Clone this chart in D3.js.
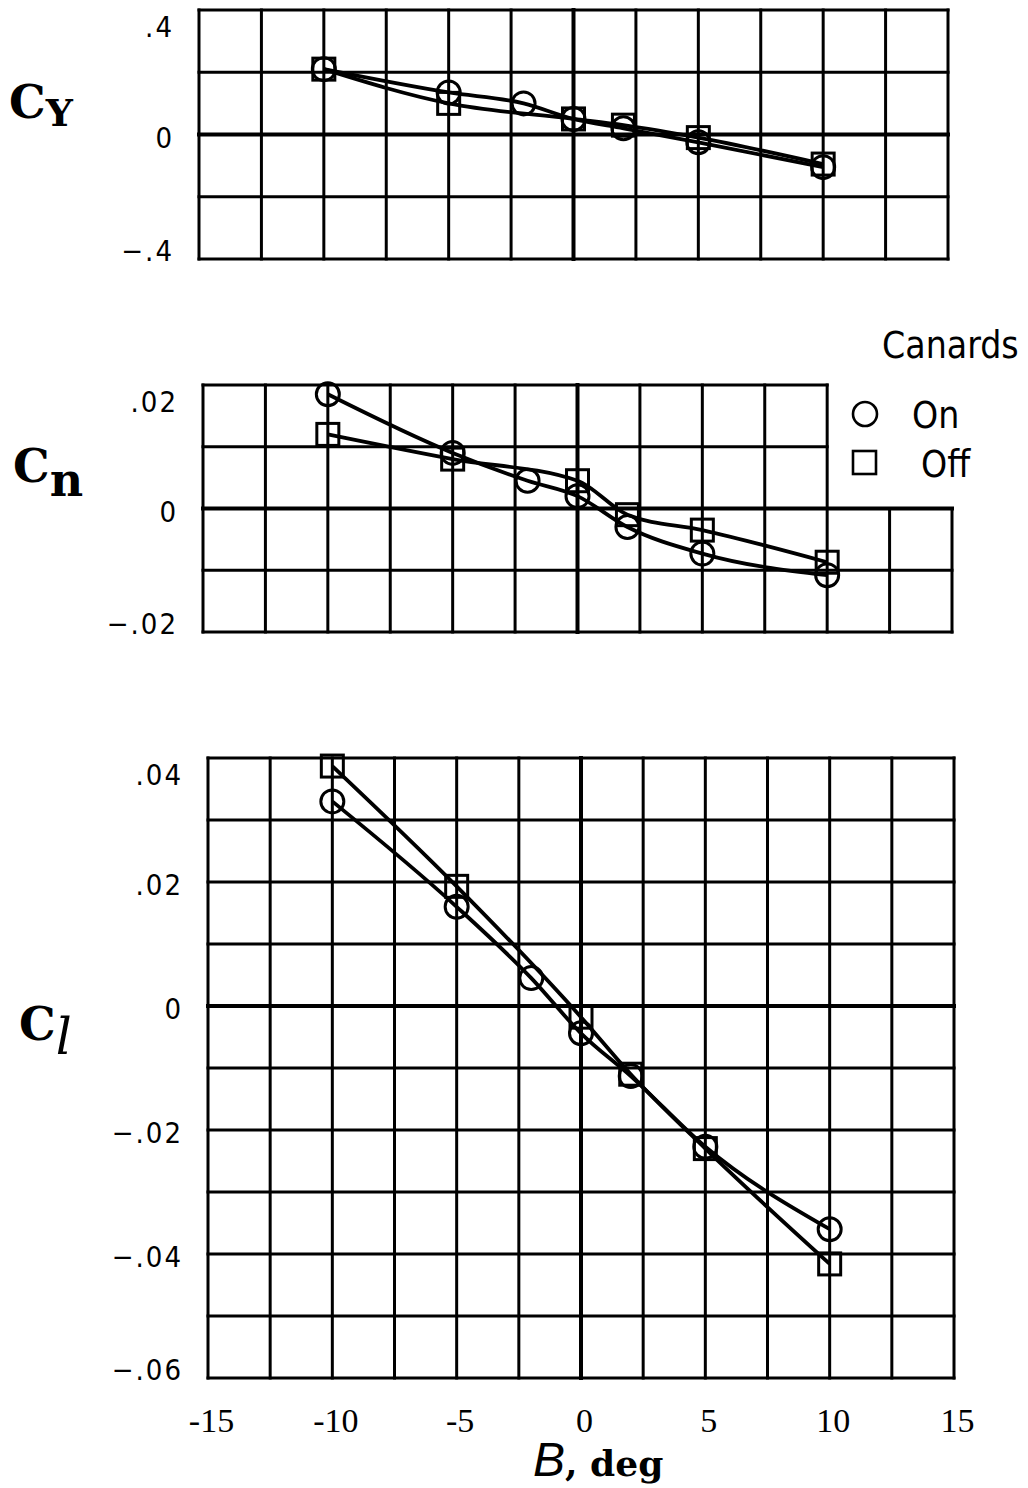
<!DOCTYPE html>
<html><head><meta charset="utf-8">
<script src="https://cdn.jsdelivr.net/npm/d3@7"></script>
<style>
html,body{margin:0;padding:0;background:#fff;}
svg{display:block;}
</style></head>
<body>
<svg id="chart" width="1028" height="1488"></svg>
<script>
// Sideslip angle, deg, for each configuration
const betaOn  = [-10, -5, -2, 0, 2, 5, 10];
const betaOff = [-10, -5, 0, 2, 5, 10];

// Side-force coefficient C_Y
const cyOn  = [0.21, 0.135, 0.10, 0.05, 0.02, -0.025, -0.105];
const cyOff = [0.21, 0.10, 0.05, 0.03, -0.01, -0.095];

// Yawing-moment coefficient C_n
const cnOn  = [0.0185, 0.009, 0.0045, 0.002, -0.003, -0.0073, -0.0108];
const cnOff = [0.012, 0.008, 0.0045, -0.001, -0.0035, -0.0087];

// Rolling-moment coefficient C_l
const clOn  = [0.033, 0.016, 0.0045, -0.0044, -0.0113, -0.0227, -0.036];
const clOff = [0.0387, 0.0193, -0.0018, -0.011, -0.023, -0.0416];

// Tick labels
const betaTicks = [-15, -10, -5, 0, 5, 10, 15];
const cyTicks = [0.4, 0, -0.4];
const cnTicks = [0.02, 0, -0.02];
const clTicks = [0.04, 0.02, 0, -0.02, -0.04, -0.06];

const legendTitle = "Canards";
const legendLabels = ["On", "Off"];

const svg = d3.select("#chart");

// ".4", "0", "−.02" style: no leading zero
const fmtY = v => v === 0 ? "0" : (v < 0 ? "\u2212" : "") + String(Math.abs(v)).replace(/^0/, "");
const fmtX = v => (v < 0 ? "-" : "") + Math.abs(v);

const panels = [
  {x0: 199, x1: 948, y0: 10,  y1: 259,  dom: [-0.4, 0.4],   step: 0.2,  ticks: cyTicks, on: cyOn, off: cyOff,
   title: {main: "C", sub: "Y", x: 9, y: 118, subDy: 8, subSize: 38, subFamily: "DejaVu Serif", subWeight: "bold", subStyle: "normal"}},
  {x0: 203, x1: 952, y0: 385, y1: 632,  dom: [-0.02, 0.02], step: 0.01, ticks: cnTicks, on: cnOn, off: cnOff, cut: 10,
   title: {main: "C", sub: "n", x: 13, y: 482, subDy: 14, subSize: 46, subFamily: "DejaVu Serif", subWeight: "bold", subStyle: "normal"}},
  {x0: 208, x1: 954, y0: 758, y1: 1378, dom: [-0.06, 0.04], step: 0.01, ticks: clTicks, on: clOn, off: clOff, xAxis: true,
   title: {main: "C", sub: "l", x: 19, y: 1040, subDy: 14, subSize: 50, subFamily: "DejaVu Serif", subWeight: "normal", subStyle: "italic"}}
];

panels.forEach(p => {
  const x = d3.scaleLinear().domain([-15, 15]).range([p.x0, p.x1]);
  const y = d3.scaleLinear().domain(p.dom).range([p.y1, p.y0]);
  const g = svg.append("g");

  const xs = d3.range(-15, 15.001, 2.5);
  const ys = d3.range(p.dom[0], p.dom[1] + p.step / 2, p.step).map(v => Math.round(v * 1e6) / 1e6);

  // grid: vertical lines (the C_n panel leaves its upper-right corner open for the key)
  g.selectAll("line.v").data(xs).join("line")
    .attr("x1", d => x(d)).attr("x2", d => x(d))
    .attr("y1", d => (p.cut !== undefined && d > p.cut) ? y(0) : y(p.dom[1]))
    .attr("y2", y(p.dom[0]))
    .attr("stroke", "#000")
    .attr("stroke-width", d => d === 0 ? 4 : 3)
    .attr("stroke-linecap", "square");

  // grid: horizontal lines
  g.selectAll("line.h").data(ys).join("line")
    .attr("y1", d => y(d)).attr("y2", d => y(d))
    .attr("x1", x(-15))
    .attr("x2", d => (p.cut !== undefined && d > 1e-9) ? x(p.cut) : x(15))
    .attr("stroke", "#000")
    .attr("stroke-width", d => Math.abs(d) < 1e-9 ? 4 : 3)
    .attr("stroke-linecap", "square");

  // y tick labels, kept inside the frame at the ends
  g.selectAll("text.yt").data(p.ticks).join("text")
    .attr("x", p.x0 - 25)
    .attr("y", d => {
      let c = y(d) + 3;
      if (d === p.dom[1]) c = y(d) + 17;
      if (d === p.dom[0]) c = y(d) - 8;
      return c + 10;
    })
    .attr("text-anchor", "end")
    .attr("font-family", "DejaVu Sans, sans-serif")
    .attr("font-stretch", "condensed")
    .attr("letter-spacing", 2)
    .attr("font-size", 29)
    .text(fmtY);

  // axis title on the left
  const t = g.append("text")
    .attr("x", p.title.x).attr("y", p.title.y)
    .attr("font-family", "DejaVu Serif, serif")
    .attr("font-weight", "bold")
    .attr("font-size", 46);
  t.append("tspan").text(p.title.main);
  t.append("tspan").attr("dy", p.title.subDy)
    .attr("font-size", p.title.subSize)
    .attr("font-family", p.title.subFamily)
    .attr("font-weight", p.title.subWeight)
    .attr("font-style", p.title.subStyle)
    .text(p.title.sub);

  // faired curves
  const line = d3.line().x(d => x(d[0])).y(d => y(d[1])).curve(d3.curveMonotoneX);
  const onPts = betaOn.map((b, i) => [b, p.on[i]]);
  const offPts = betaOff.map((b, i) => [b, p.off[i]]);
  [onPts, offPts].forEach(pts => {
    g.append("path").datum(pts).attr("d", line)
      .attr("fill", "none").attr("stroke", "#000").attr("stroke-width", 3.8)
      .attr("stroke-linejoin", "round");
  });

  // open symbols
  g.selectAll("circle.on").data(onPts).join("circle")
    .attr("cx", d => x(d[0])).attr("cy", d => y(d[1])).attr("r", 11.5)
    .attr("fill", "none").attr("stroke", "#000").attr("stroke-width", 3);
  g.selectAll("rect.off").data(offPts).join("rect")
    .attr("x", d => x(d[0]) - 11).attr("y", d => y(d[1]) - 11)
    .attr("width", 22).attr("height", 22)
    .attr("fill", "none").attr("stroke", "#000").attr("stroke-width", 3);

  if (p.xAxis) {
    const ax = d3.axisBottom(x).tickValues(betaTicks).tickSize(0).tickPadding(0).tickFormat(fmtX);
    const axg = g.append("g").attr("transform", `translate(3,${p.y1 + 54})`).call(ax);
    axg.select(".domain").remove();
    axg.selectAll("text")
      .attr("dy", 0)
      .attr("font-family", "Liberation Serif, serif")
      .attr("font-size", 34)
      .attr("fill", "#000");

    const xt = g.append("text").attr("x", 533).attr("y", 1476);
    xt.append("tspan").attr("font-family", "Liberation Sans, sans-serif")
      .attr("font-style", "italic").attr("font-size", 48).text("B");
    xt.append("tspan").attr("font-family", "DejaVu Serif, serif")
      .attr("font-weight", "bold").attr("font-size", 36).text(", deg");
  }

  if (p.cut !== undefined) {
    const lg = svg.append("g").attr("font-family", "DejaVu Sans, sans-serif")
      .attr("font-stretch", "condensed").attr("font-size", 37);
    lg.append("text").attr("x", 882).attr("y", 358).text(legendTitle);
    lg.append("circle").attr("cx", 865).attr("cy", 414).attr("r", 12)
      .attr("fill", "none").attr("stroke", "#000").attr("stroke-width", 2.6);
    lg.append("rect").attr("x", 853).attr("y", 451).attr("width", 23).attr("height", 23)
      .attr("fill", "none").attr("stroke", "#000").attr("stroke-width", 2.6);
    lg.append("text").attr("x", 912).attr("y", 428).text(legendLabels[0]);
    lg.append("text").attr("x", 921).attr("y", 477).text(legendLabels[1]);
  }
});
</script>
</body></html>
